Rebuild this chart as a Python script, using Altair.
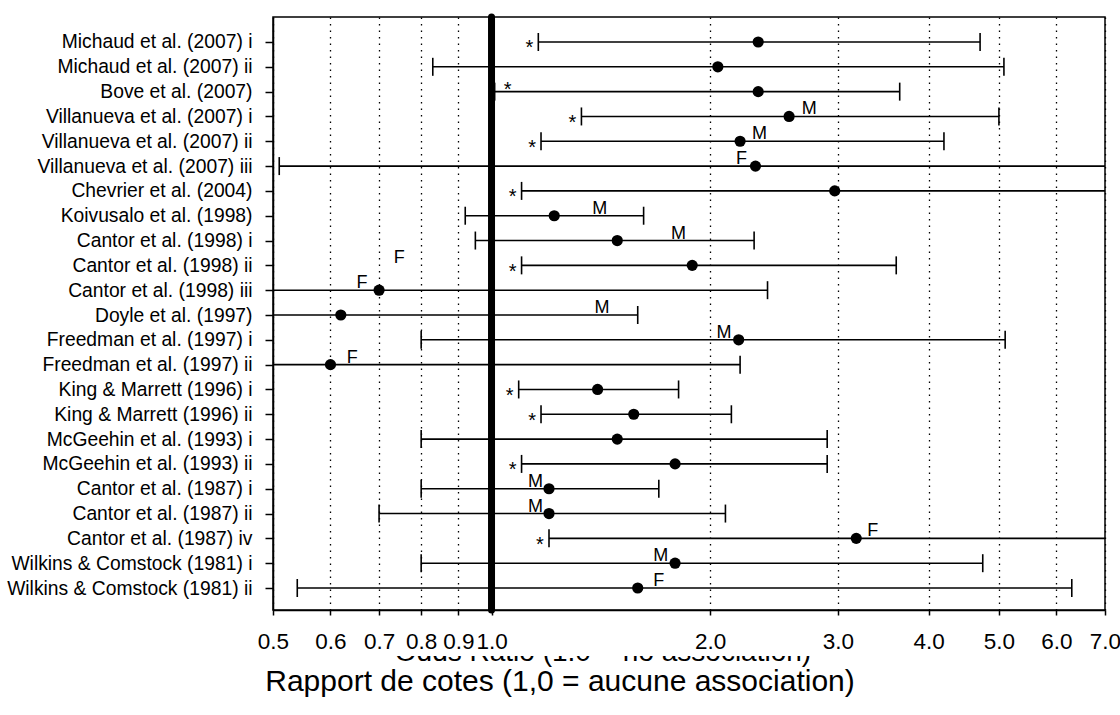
import json
import altair as alt
import pandas as pd

# Studies, top to bottom
studies = [
    "Michaud et al. (2007) i", "Michaud et al. (2007) ii", "Bove et al. (2007)",
    "Villanueva et al. (2007) i", "Villanueva et al. (2007) ii", "Villanueva et al. (2007) iii",
    "Chevrier et al. (2004)", "Koivusalo et al. (1998)", "Cantor et al. (1998) i",
    "Cantor et al. (1998) ii", "Cantor et al. (1998) iii", "Doyle et al. (1997)",
    "Freedman et al. (1997) i", "Freedman et al. (1997) ii", "King & Marrett (1996) i",
    "King & Marrett (1996) ii", "McGeehin et al. (1993) i", "McGeehin et al. (1993) ii",
    "Cantor et al. (1987) i", "Cantor et al. (1987) ii", "Cantor et al. (1987) iv",
    "Wilkins & Comstock (1981) i", "Wilkins & Comstock (1981) ii",
]

# Odds ratios with 95 % confidence limits
odds_ratio = [2.33, 2.05, 2.33, 2.57, 2.20, 2.31, 2.97, 1.22, 1.49, 1.89, 0.70, 0.62,
              2.19, 0.60, 1.40, 1.57, 1.49, 1.79, 1.20, 1.20, 3.18, 1.79, 1.59]
ci_low = [1.16, 0.83, 1.01, 1.33, 1.17, 0.51, 1.10, 0.92, 0.95, 1.10, 0.20, 0.24,
          0.80, 0.16, 1.09, 1.17, 0.80, 1.10, 0.80, 0.70, 1.20, 0.80, 0.54]
ci_high = [4.71, 5.08, 3.65, 5.00, 4.20, 10.5, 8.0, 1.62, 2.30, 3.61, 2.40, 1.59,
           5.10, 2.20, 1.81, 2.14, 2.90, 2.90, 1.70, 2.10, 8.4, 4.75, 6.30]

# Significance flag ("*"): "L" = before the lower limit, "R" = just after it
signif = ["L", "", "R", "L", "L", "", "L", "", "", "L", "", "",
          "", "", "L", "L", "", "L", "", "", "L", "", ""]

# Sex-specific estimates and where their tag sits on the odds-ratio scale
sex = ["", "", "", "M", "M", "F", "", "M", "M", "F", "F", "M",
       "M", "F", "", "", "", "", "M", "M", "F", "M", "F"]
sex_tag_at = [None, None, None, 2.74, 2.34, 2.21, None, 1.41, 1.81, 0.746, 0.663, 1.42,
              2.09, 0.643, None, None, None, None, 1.15, 1.15, 3.35, 1.71, 1.70]

tick_values = [0.5, 0.6, 0.7, 0.8, 0.9, 1.0, 2.0, 3.0, 4.0, 5.0, 6.0, 7.0]
x_min, x_max = 0.5, 7.0

title_fr = "Rapport de cotes (1,0 = aucune association)"
title_en = "Odds Ratio (1.0 = no association)"

rows = list(range(len(studies)))
df = pd.DataFrame({
    "row": rows, "study": studies, "or": odds_ratio, "low": ci_low, "high": ci_high,
    "sig": signif, "sex": sex, "sex_at": sex_tag_at,
})

SANS = "Liberation Sans"

xscale = alt.Scale(type="log", domain=[x_min, x_max], clamp=True, nice=False)
# one unit per study row, a little margin above the first and below the last
yscale = alt.Scale(domain=[-1.007, len(studies) - 1 + 0.886], reverse=True,
                   nice=False, zero=False)

x_axis = alt.Axis(
    values=tick_values, format=".1f", title=None, grid=True, tickCount=len(tick_values),
    gridDash=[1.5, 5], gridColor="black", gridWidth=1.3, gridOpacity=1,
    tickSize=5, tickColor="black", tickWidth=1.5, domainColor="black", domainWidth=1.5,
    labelFont=SANS, labelFontSize=22.5, labelColor="black", labelPadding=15,
    labelOverlap=False, labelFlush=False, labelBound=False, zindex=1,
)
y_axis = alt.Axis(
    title=None, grid=False, values=rows, tickCount=len(rows),
    labelExpr=json.dumps(studies) + "[datum.value]",
    tickSize=8, tickColor="black", tickWidth=1.5,
    domainColor="black", domainWidth=1.5,
    labelFont=SANS, labelFontSize=19.3, labelColor="black", labelPadding=13,
    labelBaseline="middle", labelLimit=0, labelOverlap=False, labelFlush=False,
)

base = alt.Chart(df)
Y = alt.Y("row:Q", scale=yscale, axis=y_axis)
Yp = alt.Y("row:Q", scale=yscale)

bars = base.mark_rule(color="black", strokeWidth=1.6).encode(
    x=alt.X("low:Q", scale=xscale, axis=x_axis), x2="high:Q", y=Y
)

null_line = alt.Chart(pd.DataFrame({"v": [1.0]})).mark_rule(
    color="black", strokeWidth=7, strokeCap="round"
).encode(x=alt.X("v:Q", scale=xscale))

cap_low = base.transform_filter(alt.datum.low >= x_min).mark_rule(
    color="black", strokeWidth=1.6, yOffset=-9, y2Offset=9
).encode(x=alt.X("low:Q", scale=xscale), y=Yp, y2="row:Q")

cap_high = base.transform_filter(alt.datum.high <= x_max).mark_rule(
    color="black", strokeWidth=1.6, yOffset=-9, y2Offset=9
).encode(x=alt.X("high:Q", scale=xscale), y=Yp, y2="row:Q")

points = base.mark_circle(color="black", size=125, opacity=1).encode(
    x=alt.X("or:Q", scale=xscale), y=Yp
)

star_left = base.transform_filter(alt.datum.sig == "L").mark_text(
    text="*", font=SANS, fontSize=20, color="black", dx=-9, dy=12.5,
    baseline="alphabetic", align="center"
).encode(x=alt.X("low:Q", scale=xscale), y=Yp)

star_right = base.transform_filter(alt.datum.sig == "R").mark_text(
    text="*", font=SANS, fontSize=20, color="black", dx=13, dy=4,
    baseline="alphabetic", align="center"
).encode(x=alt.X("low:Q", scale=xscale), y=Yp)

sex_tags = base.transform_filter(alt.datum.sex != "").mark_text(
    font=SANS, fontSize=18, color="black", dy=-2, baseline="alphabetic", align="center"
).encode(x=alt.X("sex_at:Q", scale=xscale), y=Yp, text="sex:N")

# English caption partly masked by the French one beneath
caption_en = alt.Chart(pd.DataFrame({"t": [title_en]})).mark_text(
    font=SANS, fontSize=28, color="black", align="center", baseline="alphabetic"
).encode(text="t:N", x=alt.value(330), y=alt.value(644))

mask = alt.Chart(pd.DataFrame({"t": [0]})).mark_rect(color="white", opacity=1).encode(
    x=alt.value(100), x2=alt.value(580), y=alt.value(618), y2=alt.value(639)
)

caption_fr = alt.Chart(pd.DataFrame({"t": [title_fr]})).mark_text(
    font=SANS, fontSize=30, color="black", align="center", baseline="alphabetic"
).encode(text="t:N", x=alt.value(287), y=alt.value(674))

chart = alt.layer(
    bars, cap_low, cap_high, null_line, points, star_left, star_right, sex_tags,
    caption_en, mask, caption_fr,
).properties(
    width=832, height=593,
    padding={"left": 273, "top": 17, "right": 15, "bottom": 105},
    autosize=alt.AutoSizeParams(type="none"),
    background="white",
).configure_view(stroke="black", strokeWidth=1.5)

chart.save("out.html", embed_options={"renderer": "svg", "actions": False})
